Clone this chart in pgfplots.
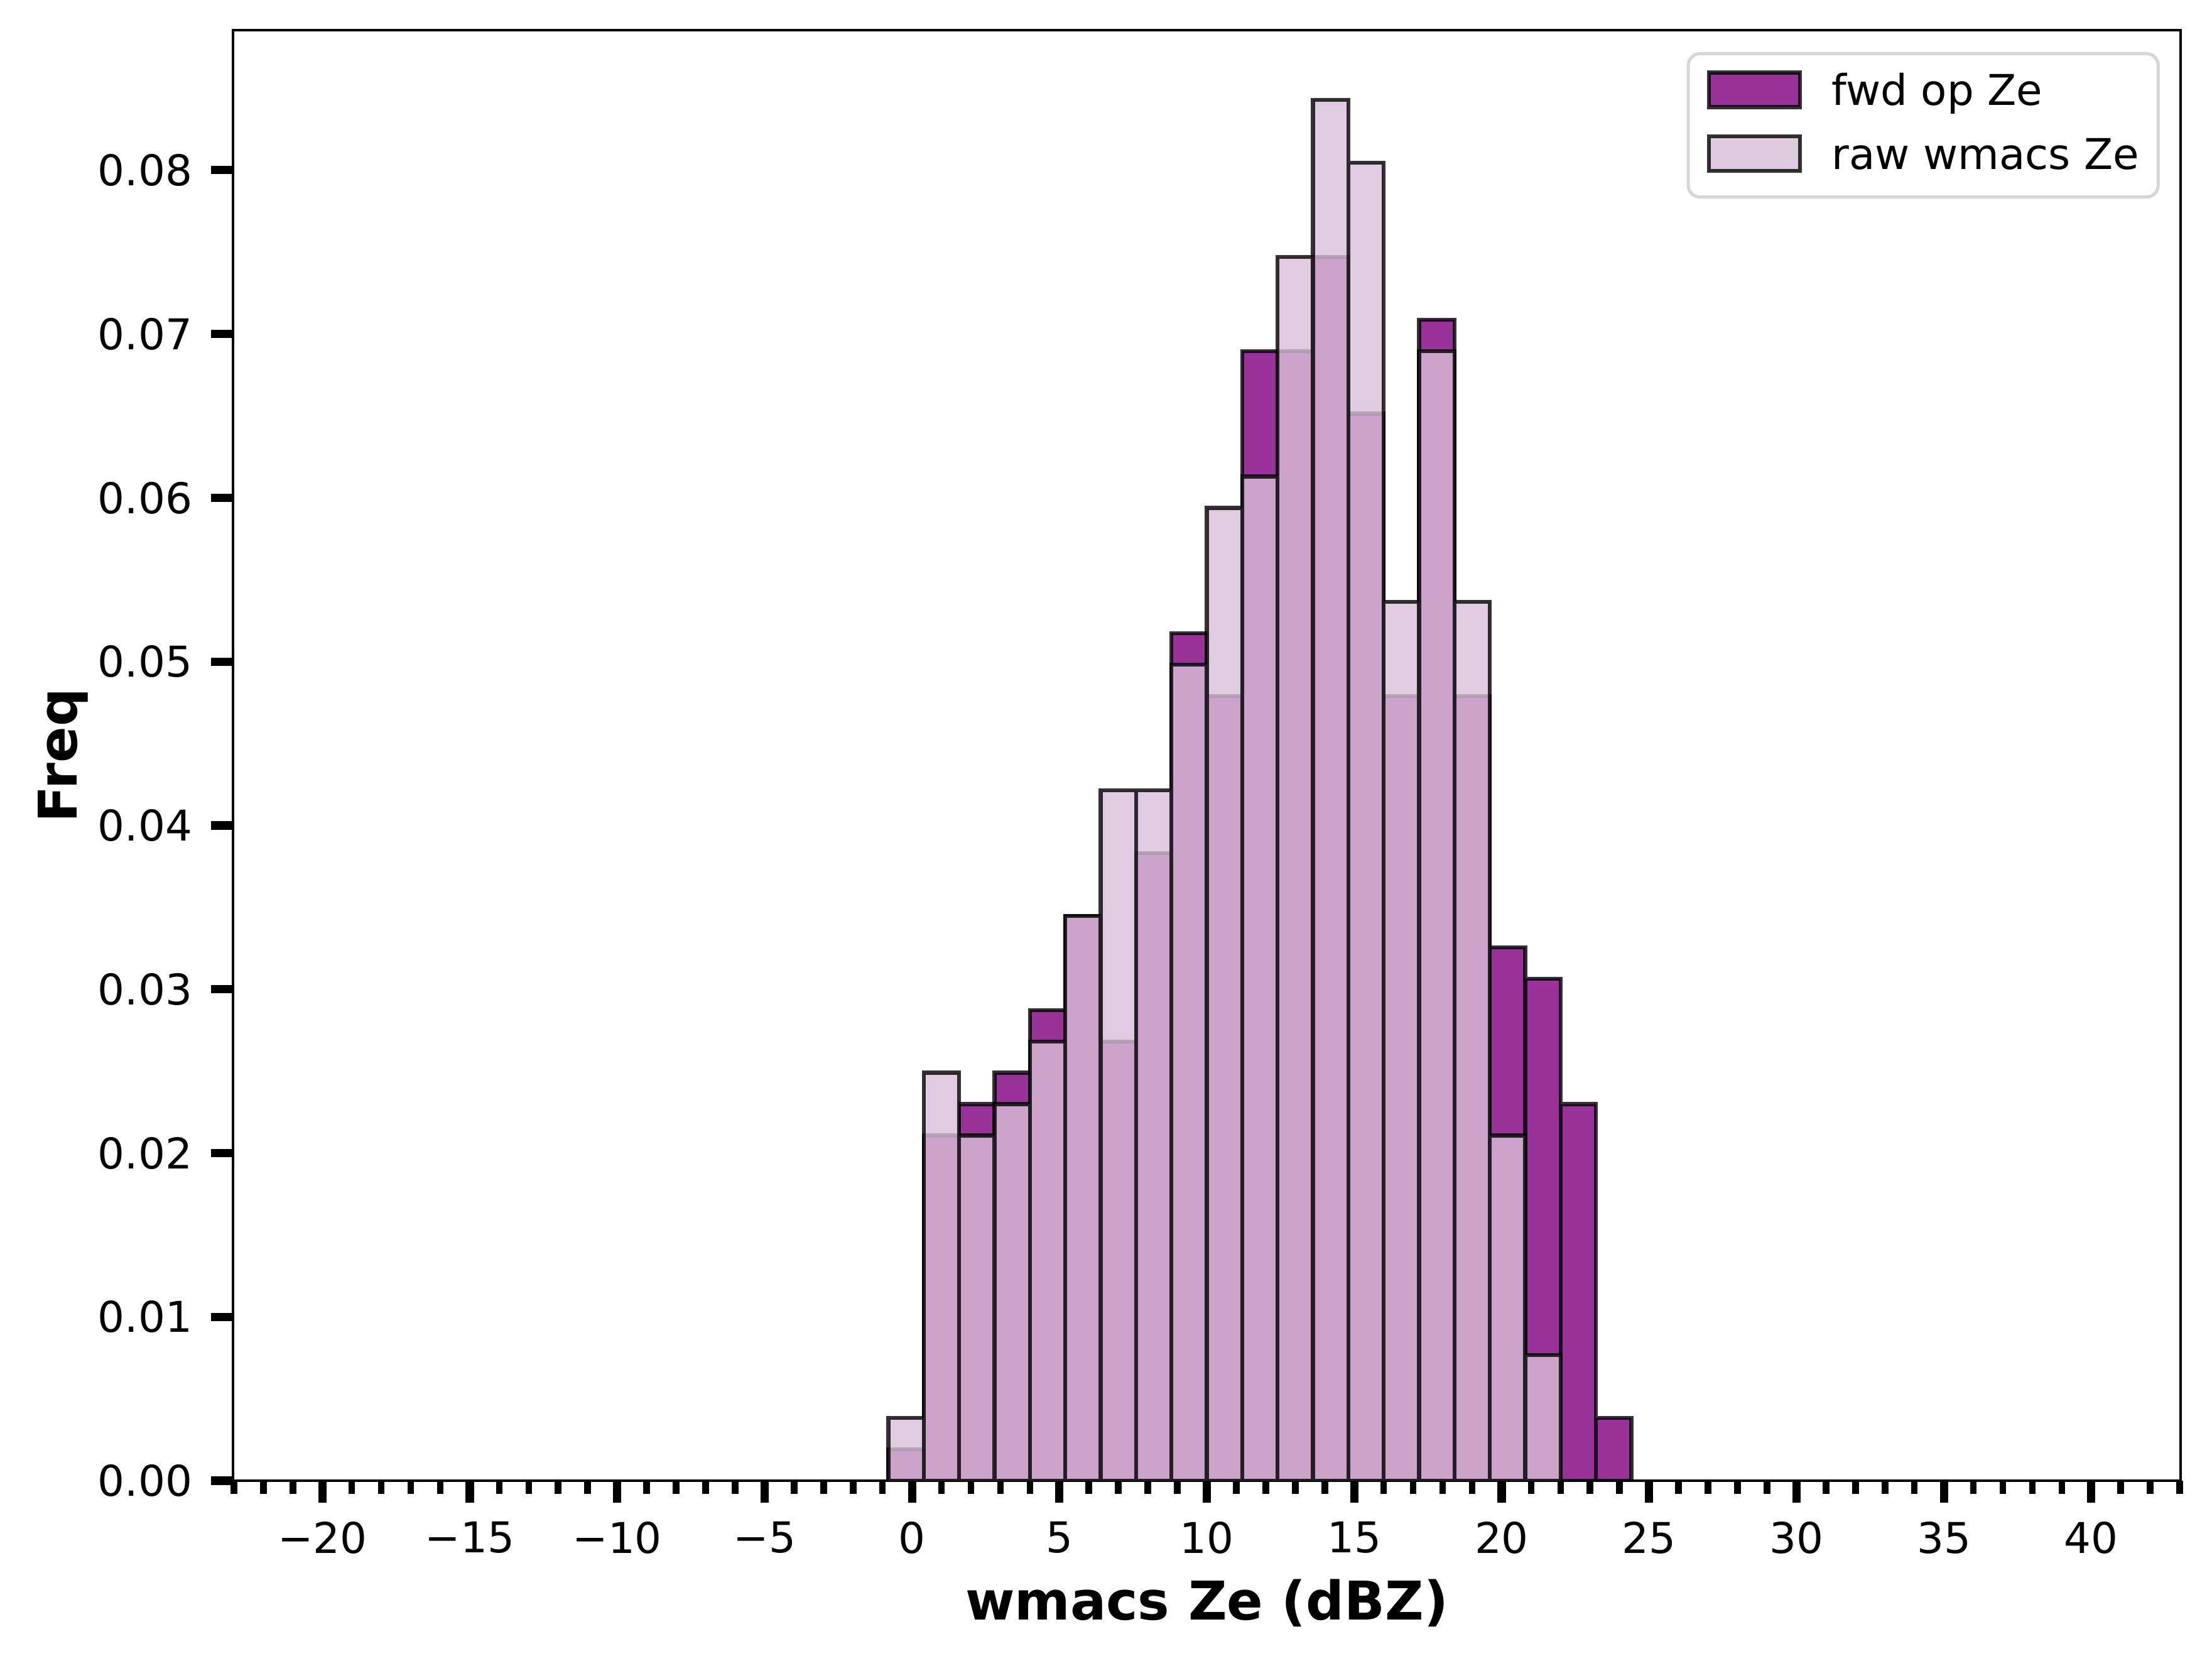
\documentclass[border=0pt]{standalone}
\usepackage{fontspec}
\setmainfont{DejaVu Sans}
\usepackage{pgfplots}
\pgfplotsset{compat=1.18}
\definecolor{mplpurple}{RGB}{128,0,128}
\definecolor{mplthistle}{RGB}{216,191,216}
\definecolor{legedge}{RGB}{214,214,214}
\begin{document}
\begin{tikzpicture}
\begin{axis}[
  at={(0,0)}, anchor=south west,
  scale only axis, width=496.16bp, height=369.44bp,
  xmin=-23.03, xmax=43.03, ymin=0, ymax=0.08855,
  scaled y ticks=false, scaled x ticks=false,
  axis line style={line width=0.75bp, black},
  tick align=outside, xtick pos=left, ytick pos=left,
  xtick={-20,-15,...,40},
  xticklabels={−20,−15,−10,−5,0,5,10,15,20,25,30,35,40},
  minor xtick={-23,-22,...,43},
  ytick={0,0.01,0.02,0.03,0.04,0.05,0.06,0.07,0.08},
  yticklabels={0.00,0.01,0.02,0.03,0.04,0.05,0.06,0.07,0.08},
  major tick length=5.6bp, minor tick length=3.4bp,
  major tick style={line width=2.1bp, black},
  minor tick style={line width=1.7bp, black},
  ticklabel style={font=\fontsize{10.8bp}{13bp}\selectfont, inner sep=0pt},
  xticklabel style={anchor=north, yshift=-4.6bp},
  yticklabel style={anchor=east, xshift=-4.6bp},
  xlabel={\fontsize{13.6bp}{16bp}\selectfont\bfseries wmacs Ze (dBZ)},
  xlabel style={at={(axis description cs:0.5,-0.0961)}, anchor=base, inner sep=0pt},
  ylabel={\fontsize{13.6bp}{16bp}\selectfont\bfseries Freq},
  ylabel style={at={(axis description cs:-0.0802,0.5)}, anchor=base, inner sep=0pt},
  legend cell align=left,
  legend style={at={(1,1)}, anchor=north east, xshift=-5.3bp, yshift=-5.6bp,
    draw=legedge, line width=0.8bp, rounded corners=3bp, fill=white,
    inner xsep=4.8bp, inner ysep=4.3bp, row sep=4.7bp,
    font=\fontsize{10.8bp}{13bp}\selectfont,
    nodes={inner sep=0bp, text height=7.8bp, text depth=2.8bp},
    cells={anchor=base west},
    /tikz/every odd column/.append style={column sep=7.6bp}},
]
\addplot[ybar interval, fill=mplpurple, fill opacity=0.8, draw=black, draw opacity=0.8, line width=1bp,
  legend image code/.code={\draw[fill=mplpurple, fill opacity=0.8, draw=black, draw opacity=0.8, line width=1bp, sharp corners] (0bp,-0.5bp) rectangle (23.2bp,8.3bp);}]
coordinates {(-0.8,0.001916) (0.4,0.021073) (1.6,0.022989) (2.8,0.024904) (4.0,0.028736) (5.2,0.034483) (6.4,0.026820) (7.6,0.038314) (8.8,0.051724) (10.0,0.047893) (11.2,0.068966) (12.4,0.068966) (13.6,0.074713) (14.8,0.065134) (16.0,0.047893) (17.2,0.070881) (18.4,0.047893) (19.6,0.032567) (20.8,0.030651) (22.0,0.022989) (23.2,0.003831) (24.4,0.003831)};
\addlegendentry{fwd op Ze}
\addplot[ybar interval, fill=mplthistle, fill opacity=0.8, draw=black, draw opacity=0.8, line width=1bp,
  legend image code/.code={\draw[fill=mplthistle, fill opacity=0.8, draw=black, draw opacity=0.8, line width=1bp, sharp corners] (0bp,-0.5bp) rectangle (23.2bp,8.3bp);}]
coordinates {(-0.8,0.003831) (0.4,0.024904) (1.6,0.021073) (2.8,0.022989) (4.0,0.026820) (5.2,0.034483) (6.4,0.042146) (7.6,0.042146) (8.8,0.049808) (10.0,0.059387) (11.2,0.061303) (12.4,0.074713) (13.6,0.084291) (14.8,0.080460) (16.0,0.053640) (17.2,0.068966) (18.4,0.053640) (19.6,0.021073) (20.8,0.007663) (22.0,0)};
\addlegendentry{raw wmacs Ze}
\end{axis}
\path (-59.36bp,-45.92bp) rectangle (504.16bp,377.12bp);
\end{tikzpicture}
\end{document}
